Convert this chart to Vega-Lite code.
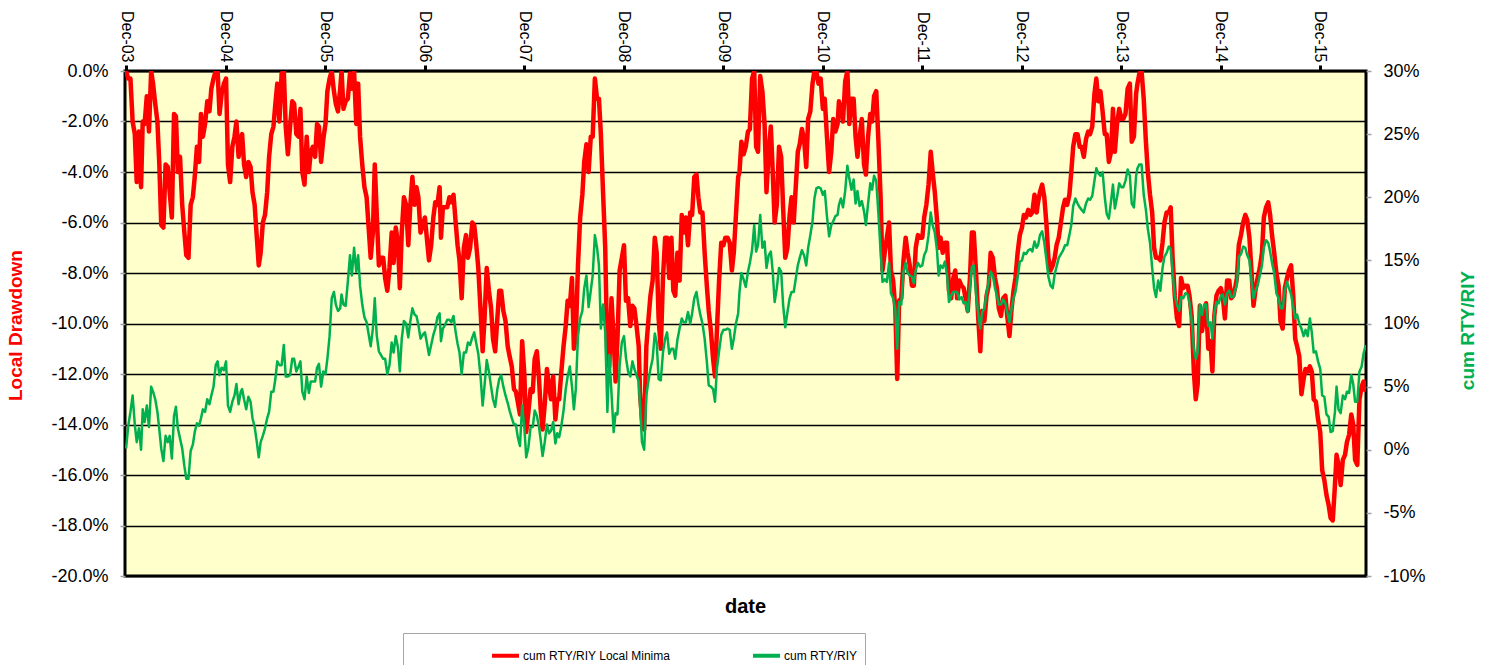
{
"$schema": "https://vega.github.io/schema/vega-lite/v6.json",
"width": 1241, "height": 505,
"autosize": {"type": "none"},
"padding": {"left": 125, "top": 71, "right": 122, "bottom": 89},
"background": "#ffffff",
"config": {
  "view": {"fill": "#FFFFCC", "stroke": "#000000", "strokeWidth": 3},
  "font": "Liberation Sans",
  "axis": {"labelFont": "Liberation Sans", "titleFont": "Liberation Sans"}
},
"data": {"values": [
{"d":"2003-12-31","r":0,"g":0.1},{"d":"2004-01-16","r":-0.3,"g":3.0},{"d":"2004-02-01","r":-2.5,"g":2.0},{"d":"2004-02-16","r":-2.4,"g":1.7},
{"d":"2004-03-01","r":-2.0,"g":3.2},{"d":"2004-03-16","r":-1.0,"g":3.5},{"d":"2004-04-01","r":0,"g":5.0},{"d":"2004-04-16","r":-1.3,"g":4.0},
{"d":"2004-05-01","r":-3.7,"g":1.6},{"d":"2004-05-16","r":-6.2,"g":-0.9},{"d":"2004-06-01","r":-3.8,"g":0.6},{"d":"2004-06-16","r":-5.8,"g":-0.7},
{"d":"2004-07-01","r":-1.8,"g":3.4},{"d":"2004-07-16","r":-3.4,"g":0.9},{"d":"2004-08-01","r":-6.4,"g":-1.3},{"d":"2004-08-16","r":-7.4,"g":-2.3},
{"d":"2004-09-01","r":-5.0,"g":0.4},{"d":"2004-09-16","r":-3.0,"g":2.1},{"d":"2004-10-01","r":-1.7,"g":2.5},{"d":"2004-10-16","r":-2.1,"g":3.0},
{"d":"2004-11-01","r":-1.6,"g":3.6},{"d":"2004-11-16","r":-0.3,"g":5.0},{"d":"2004-12-01","r":0,"g":7.0},{"d":"2004-12-16","r":-0.9,"g":6.5},
{"d":"2005-01-01","r":-0.3,"g":7.0},{"d":"2005-01-16","r":-4.4,"g":3.0},{"d":"2005-02-01","r":-2.6,"g":4.3},{"d":"2005-02-16","r":-3.4,"g":3.6},
{"d":"2005-03-01","r":-2.5,"g":4.8},{"d":"2005-03-16","r":-4.2,"g":3.2},{"d":"2005-04-01","r":-3.8,"g":3.8},{"d":"2005-04-16","r":-5.3,"g":1.8},
{"d":"2005-05-01","r":-7.7,"g":-0.6},{"d":"2005-05-16","r":-6.0,"g":1.1},{"d":"2005-06-01","r":-4.8,"g":2.5},{"d":"2005-06-16","r":-2.5,"g":4.6},
{"d":"2005-07-01","r":-1.3,"g":5.6},{"d":"2005-07-16","r":-2.0,"g":6.7},{"d":"2005-08-01","r":0,"g":8.3},{"d":"2005-08-16","r":-3.3,"g":5.8},
{"d":"2005-09-01","r":-1.2,"g":7.2},{"d":"2005-09-16","r":-2.5,"g":6.2},{"d":"2005-10-01","r":-1.5,"g":7.0},{"d":"2005-10-16","r":-4.5,"g":4.0},
{"d":"2005-11-01","r":-4.0,"g":4.5},{"d":"2005-11-16","r":-3.0,"g":5.4},{"d":"2005-12-01","r":-2.1,"g":6.5},{"d":"2005-12-16","r":-3.6,"g":5.0},
{"d":"2006-01-01","r":-2.1,"g":6.0},{"d":"2006-01-16","r":-0.3,"g":9.0},{"d":"2006-02-01","r":-0.8,"g":12.5},{"d":"2006-02-16","r":-1.6,"g":11.0},
{"d":"2006-03-01","r":0,"g":12.3},{"d":"2006-03-16","r":-1.2,"g":11.4},{"d":"2006-04-01","r":-0.1,"g":15.4},{"d":"2006-04-16","r":0,"g":16.0},
{"d":"2006-05-01","r":-0.5,"g":15.4},{"d":"2006-05-16","r":-3.7,"g":11.5},{"d":"2006-06-01","r":-5.0,"g":10.1},{"d":"2006-06-16","r":-7.4,"g":8.2},
{"d":"2006-07-01","r":-3.7,"g":12.0},{"d":"2006-07-16","r":-7.7,"g":7.8},{"d":"2006-08-01","r":-7.4,"g":7.2},{"d":"2006-08-16","r":-8.7,"g":6.0},
{"d":"2006-09-01","r":-6.4,"g":8.5},{"d":"2006-09-16","r":-6.2,"g":9.0},{"d":"2006-10-01","r":-8.6,"g":6.2},{"d":"2006-10-16","r":-5.0,"g":10.2},
{"d":"2006-11-01","r":-6.9,"g":8.9},{"d":"2006-11-16","r":-4.2,"g":11.2},{"d":"2006-12-01","r":-4.6,"g":10.6},{"d":"2006-12-16","r":-6.4,"g":8.8},
{"d":"2007-01-01","r":-5.8,"g":9.3},{"d":"2007-01-16","r":-7.5,"g":7.5},{"d":"2007-02-01","r":-5.8,"g":9.1},{"d":"2007-02-16","r":-5.3,"g":10.5},
{"d":"2007-03-01","r":-6.6,"g":8.6},{"d":"2007-03-16","r":-5.4,"g":9.9},{"d":"2007-04-01","r":-5.0,"g":10.3},{"d":"2007-04-16","r":-4.9,"g":10.6},
{"d":"2007-05-01","r":-6.9,"g":8.4},{"d":"2007-05-16","r":-9.0,"g":6.0},{"d":"2007-06-01","r":-6.5,"g":7.7},{"d":"2007-06-16","r":-7.0,"g":8.3},
{"d":"2007-07-01","r":-6.1,"g":9.3},{"d":"2007-07-16","r":-7.8,"g":7.6},{"d":"2007-08-01","r":-11.1,"g":3.5},{"d":"2007-08-16","r":-7.8,"g":7.1},
{"d":"2007-09-01","r":-9.4,"g":5.0},{"d":"2007-09-16","r":-11.1,"g":3.4},{"d":"2007-10-01","r":-8.7,"g":5.6},{"d":"2007-10-16","r":-9.5,"g":5.0},
{"d":"2007-11-01","r":-10.9,"g":3.7},{"d":"2007-11-16","r":-11.7,"g":2.5},{"d":"2007-12-01","r":-12.7,"g":2.0},{"d":"2007-12-16","r":-13.6,"g":0.3},
{"d":"2008-01-01","r":-12.0,"g":1.8},{"d":"2008-01-16","r":-13.5,"g":0.2},{"d":"2008-02-01","r":-12.7,"g":1.8},{"d":"2008-02-16","r":-11.1,"g":2.7},
{"d":"2008-03-01","r":-13.4,"g":0.8},{"d":"2008-03-16","r":-13.2,"g":0.6},{"d":"2008-04-01","r":-12.5,"g":1.3},{"d":"2008-04-16","r":-12.1,"g":2.2},
{"d":"2008-05-01","r":-13.0,"g":1.3},{"d":"2008-05-16","r":-11.9,"g":1.9},{"d":"2008-06-01","r":-10.1,"g":4.8},{"d":"2008-06-16","r":-9.3,"g":6.6},
{"d":"2008-07-01","r":-11.0,"g":3.2},{"d":"2008-07-16","r":-7.7,"g":9.0},{"d":"2008-08-01","r":-4.9,"g":11.0},{"d":"2008-08-16","r":-2.9,"g":13.8},
{"d":"2008-09-01","r":-2.6,"g":12.6},{"d":"2008-09-16","r":-0.3,"g":17.0},{"d":"2008-10-01","r":-1.1,"g":14.6},{"d":"2008-10-16","r":-4.8,"g":11.5},
{"d":"2008-11-01","r":-11.5,"g":3.0},{"d":"2008-11-16","r":-9.0,"g":4.5},{"d":"2008-12-01","r":-12.3,"g":2.9},{"d":"2008-12-16","r":-7.9,"g":6.7},
{"d":"2009-01-01","r":-6.9,"g":9.0},{"d":"2009-01-16","r":-9.0,"g":6.2},{"d":"2009-02-01","r":-9.3,"g":7.0},{"d":"2009-02-16","r":-10.1,"g":5.9},
{"d":"2009-03-01","r":-12.8,"g":3.5},{"d":"2009-03-16","r":-14.2,"g":0.0},{"d":"2009-04-01","r":-9.8,"g":5.5},{"d":"2009-04-16","r":-8.3,"g":7.2},
{"d":"2009-05-01","r":-7.2,"g":8.5},{"d":"2009-05-16","r":-11.0,"g":5.5},{"d":"2009-06-01","r":-6.6,"g":8.8},{"d":"2009-06-16","r":-8.2,"g":7.6},
{"d":"2009-07-01","r":-8.7,"g":8.0},{"d":"2009-07-16","r":-7.2,"g":8.7},{"d":"2009-08-01","r":-5.7,"g":10.4},{"d":"2009-08-16","r":-5.8,"g":10.1},
{"d":"2009-09-01","r":-5.6,"g":10.0},{"d":"2009-09-16","r":-4.2,"g":12.0},{"d":"2009-10-01","r":-5.0,"g":11.5},{"d":"2009-10-16","r":-5.6,"g":10.0},
{"d":"2009-11-01","r":-8.5,"g":7.0},{"d":"2009-11-16","r":-10.3,"g":5.0},{"d":"2009-12-01","r":-12.1,"g":3.8},{"d":"2009-12-16","r":-8.3,"g":7.8},
{"d":"2010-01-01","r":-6.9,"g":9.5},{"d":"2010-01-16","r":-6.6,"g":9.6},{"d":"2010-02-01","r":-7.9,"g":8.0},{"d":"2010-02-16","r":-5.7,"g":10.0},
{"d":"2010-03-01","r":-4.0,"g":12.5},{"d":"2010-03-16","r":-3.3,"g":13.5},{"d":"2010-04-01","r":-2.4,"g":14.1},{"d":"2010-04-16","r":-0.3,"g":15.8},
{"d":"2010-05-01","r":-3.0,"g":15.7},{"d":"2010-05-16","r":-0.2,"g":18.6},{"d":"2010-06-01","r":-2.1,"g":16.5},{"d":"2010-06-16","r":-3.2,"g":15.4},
{"d":"2010-07-01","r":-4.0,"g":14.1},{"d":"2010-07-16","r":-5.3,"g":12.8},{"d":"2010-08-01","r":-3.4,"g":14.1},{"d":"2010-08-16","r":-7.4,"g":9.7},
{"d":"2010-09-01","r":-5.7,"g":12.0},{"d":"2010-09-16","r":-6.0,"g":12.5},{"d":"2010-10-01","r":-3.2,"g":14.6},{"d":"2010-10-16","r":-2.3,"g":15.8},
{"d":"2010-11-01","r":-3.8,"g":14.6},{"d":"2010-11-16","r":-1.6,"g":17.0},{"d":"2010-12-01","r":0,"g":19.9},{"d":"2010-12-16","r":-0.5,"g":20.8},
{"d":"2011-01-01","r":-1.5,"g":20.2},{"d":"2011-01-16","r":-2.6,"g":18.5},{"d":"2011-02-01","r":-3.2,"g":17.8},{"d":"2011-02-16","r":-2.4,"g":18.5},
{"d":"2011-03-01","r":-1.2,"g":19.4},{"d":"2011-03-16","r":-2.0,"g":19.2},{"d":"2011-04-01","r":0,"g":22.5},{"d":"2011-04-16","r":-1.1,"g":20.6},
{"d":"2011-05-01","r":-2.6,"g":19.5},{"d":"2011-05-16","r":-2.6,"g":19.3},{"d":"2011-06-01","r":-3.7,"g":18.9},{"d":"2011-06-16","r":-2.6,"g":19.5},
{"d":"2011-07-01","r":-2.0,"g":20.6},{"d":"2011-07-16","r":-0.8,"g":21.3},{"d":"2011-08-01","r":-5.0,"g":15.7},{"d":"2011-08-16","r":-7.2,"g":13.5},
{"d":"2011-09-01","r":-6.0,"g":14.8},{"d":"2011-09-16","r":-8.3,"g":12.0},{"d":"2011-10-01","r":-12.2,"g":8.0},{"d":"2011-10-16","r":-9.0,"g":11.5},
{"d":"2011-11-01","r":-6.6,"g":14.8},{"d":"2011-11-16","r":-7.7,"g":13.8},{"d":"2011-12-01","r":-8.5,"g":13.2},{"d":"2011-12-16","r":-6.5,"g":14.8},
{"d":"2012-01-01","r":-6.6,"g":14.6},{"d":"2012-01-16","r":-5.3,"g":15.8},{"d":"2012-02-01","r":-3.2,"g":18.8},{"d":"2012-02-16","r":-4.8,"g":17.2},
{"d":"2012-03-01","r":-7.0,"g":13.8},{"d":"2012-03-16","r":-7.2,"g":14.4},{"d":"2012-04-01","r":-6.8,"g":13.8},{"d":"2012-04-16","r":-9.0,"g":12.2},
{"d":"2012-05-01","r":-7.9,"g":12.5},{"d":"2012-05-16","r":-8.3,"g":11.9},{"d":"2012-06-01","r":-8.6,"g":11.6},{"d":"2012-06-16","r":-9.5,"g":10.9},
{"d":"2012-07-01","r":-6.4,"g":14.5},{"d":"2012-07-16","r":-7.9,"g":12.4},{"d":"2012-08-01","r":-11.1,"g":9.6},{"d":"2012-08-16","r":-9.9,"g":11.2},
{"d":"2012-09-01","r":-8.5,"g":13.4},{"d":"2012-09-16","r":-7.4,"g":13.8},{"d":"2012-10-01","r":-8.6,"g":12.2},{"d":"2012-10-16","r":-9.7,"g":11.5},
{"d":"2012-11-01","r":-8.9,"g":11.6},{"d":"2012-11-16","r":-10.5,"g":10.1},{"d":"2012-12-01","r":-8.7,"g":12.0},{"d":"2012-12-16","r":-7.2,"g":13.6},
{"d":"2013-01-01","r":-6.2,"g":15.0},{"d":"2013-01-16","r":-5.8,"g":15.5},{"d":"2013-02-01","r":-5.7,"g":15.9},{"d":"2013-02-16","r":-4.9,"g":16.5},
{"d":"2013-03-01","r":-5.2,"g":16.2},{"d":"2013-03-16","r":-4.5,"g":17.3},{"d":"2013-04-01","r":-6.1,"g":15.0},{"d":"2013-04-16","r":-7.9,"g":13.0},
{"d":"2013-05-01","r":-7.4,"g":13.9},{"d":"2013-05-16","r":-6.6,"g":15.2},{"d":"2013-06-01","r":-5.4,"g":15.8},{"d":"2013-06-16","r":-5.3,"g":16.2},
{"d":"2013-07-01","r":-4.0,"g":17.8},{"d":"2013-07-16","r":-2.5,"g":19.9},{"d":"2013-08-01","r":-3.0,"g":19.2},{"d":"2013-08-16","r":-3.4,"g":18.8},
{"d":"2013-09-01","r":-2.4,"g":19.9},{"d":"2013-09-16","r":-2.2,"g":20.1},{"d":"2013-10-01","r":-0.3,"g":22.3},{"d":"2013-10-16","r":-0.8,"g":21.7},
{"d":"2013-11-01","r":-2.5,"g":20.0},{"d":"2013-11-16","r":-3.6,"g":18.3},{"d":"2013-12-01","r":-1.5,"g":21.0},{"d":"2013-12-16","r":-2.1,"g":20.0},
{"d":"2014-01-01","r":-1.9,"g":20.8},{"d":"2014-01-16","r":-1.7,"g":21.3},{"d":"2014-02-01","r":-0.5,"g":21.7},{"d":"2014-02-16","r":-2.6,"g":19.2},
{"d":"2014-03-01","r":-0.5,"g":22.3},{"d":"2014-03-16","r":0,"g":22.6},{"d":"2014-04-01","r":-2.8,"g":19.0},{"d":"2014-04-16","r":-4.9,"g":16.4},
{"d":"2014-05-01","r":-7.0,"g":12.8},{"d":"2014-05-16","r":-7.4,"g":13.4},{"d":"2014-06-01","r":-6.8,"g":14.4},{"d":"2014-06-16","r":-5.6,"g":15.6},
{"d":"2014-07-01","r":-5.4,"g":15.9},{"d":"2014-07-16","r":-8.9,"g":12.2},{"d":"2014-08-01","r":-10.1,"g":11.0},{"d":"2014-08-16","r":-8.6,"g":12.0},
{"d":"2014-09-01","r":-8.5,"g":12.3},{"d":"2014-09-16","r":-9.7,"g":10.2},{"d":"2014-10-01","r":-13.0,"g":7.2},{"d":"2014-10-16","r":-9.3,"g":11.5},
{"d":"2014-11-01","r":-9.7,"g":11.5},{"d":"2014-11-16","r":-11.0,"g":9.8},{"d":"2014-12-01","r":-11.9,"g":8.8},{"d":"2014-12-16","r":-8.9,"g":11.7},
{"d":"2015-01-01","r":-8.6,"g":12.2},{"d":"2015-01-16","r":-9.8,"g":11.5},{"d":"2015-02-01","r":-8.3,"g":12.6},{"d":"2015-02-16","r":-8.9,"g":12.1},
{"d":"2015-03-01","r":-8.2,"g":13.1},{"d":"2015-03-16","r":-6.5,"g":15.5},{"d":"2015-04-01","r":-5.7,"g":16.0},{"d":"2015-04-16","r":-6.6,"g":15.0},
{"d":"2015-05-01","r":-9.3,"g":12.0},{"d":"2015-05-16","r":-8.2,"g":13.0},{"d":"2015-06-01","r":-7.2,"g":14.6},{"d":"2015-06-16","r":-5.4,"g":16.6},
{"d":"2015-07-01","r":-5.7,"g":15.7},{"d":"2015-07-16","r":-7.2,"g":14.0},{"d":"2015-08-01","r":-8.5,"g":12.0},{"d":"2015-08-16","r":-10.2,"g":11.2},
{"d":"2015-09-01","r":-8.2,"g":13.3},{"d":"2015-09-16","r":-7.7,"g":12.3},{"d":"2015-10-01","r":-10.6,"g":10.4},{"d":"2015-10-16","r":-11.3,"g":10.0},
{"d":"2015-11-01","r":-12.2,"g":9.0},{"d":"2015-11-16","r":-11.9,"g":9.0},{"d":"2015-12-01","r":-11.9,"g":9.3},{"d":"2015-12-16","r":-13.1,"g":7.8},
{"d":"2016-01-01","r":-14.3,"g":6.4},{"d":"2016-01-16","r":-16.2,"g":4.2},{"d":"2016-02-01","r":-17.2,"g":2.6},{"d":"2016-02-16","r":-17.8,"g":1.5},
{"d":"2016-03-01","r":-15.2,"g":5.0},{"d":"2016-03-16","r":-16.4,"g":2.9},{"d":"2016-04-01","r":-15.2,"g":4.0},{"d":"2016-04-16","r":-14.4,"g":4.5},
{"d":"2016-05-01","r":-14.0,"g":5.2},{"d":"2016-05-16","r":-15.6,"g":3.8},{"d":"2016-06-01","r":-12.5,"g":6.6},{"d":"2016-06-16","r":-12.7,"g":8.3},
{"d":"2004-01-08","r":-0.3,"g":1.9},{"d":"2004-01-24","r":-2.0,"g":4.3},{"d":"2004-02-08","r":-4.4,"g":0.6},{"d":"2004-02-24","r":-4.6,"g":0.0},
{"d":"2004-03-08","r":-2.1,"g":2.2},{"d":"2004-03-24","r":-2.4,"g":1.8},{"d":"2004-04-08","r":-0.5,"g":4.6},{"d":"2004-04-24","r":-2.0,"g":3.0},
{"d":"2004-05-08","r":-6.1,"g":0.1},{"d":"2004-05-24","r":-3.7,"g":1.1},{"d":"2004-06-08","r":-4.8,"g":1.1},{"d":"2004-06-24","r":-1.7,"g":2.7},
{"d":"2004-07-08","r":-4.0,"g":1.7},{"d":"2004-07-24","r":-5.3,"g":0.1},{"d":"2004-08-08","r":-7.3,"g":-2.3},{"d":"2004-08-24","r":-5.3,"g":-0.1},
{"d":"2004-09-08","r":-4.2,"g":1.4},{"d":"2004-09-24","r":-3.6,"g":1.9},{"d":"2004-10-08","r":-2.6,"g":3.2},{"d":"2004-10-24","r":-1.2,"g":4.0},
{"d":"2004-11-08","r":-0.7,"g":4.3},{"d":"2004-11-24","r":0,"g":6.7},{"d":"2004-12-08","r":-1.7,"g":5.9},{"d":"2004-12-24","r":-0.5,"g":6.3},
{"d":"2005-01-08","r":-3.7,"g":3.5},{"d":"2005-01-24","r":-3.0,"g":3.8},{"d":"2005-02-08","r":-2.0,"g":5.2},{"d":"2005-02-24","r":-2.7,"g":4.6},
{"d":"2005-03-08","r":-3.7,"g":4.0},{"d":"2005-03-24","r":-3.6,"g":4.2},{"d":"2005-04-08","r":-4.8,"g":2.5},{"d":"2005-04-24","r":-6.6,"g":0.6},
{"d":"2005-05-08","r":-7.2,"g":0.6},{"d":"2005-05-24","r":-5.7,"g":1.7},{"d":"2005-06-08","r":-3.4,"g":3.0},{"d":"2005-06-24","r":-2.2,"g":4.6},
{"d":"2005-07-08","r":-0.5,"g":7.0},{"d":"2005-07-24","r":-0.1,"g":6.7},{"d":"2005-08-08","r":-2.2,"g":5.8},{"d":"2005-08-24","r":-2.2,"g":5.9},
{"d":"2005-09-08","r":-1.3,"g":7.2},{"d":"2005-09-24","r":-2.6,"g":6.6},{"d":"2005-10-08","r":-4.0,"g":4.6},{"d":"2005-10-24","r":-2.6,"g":5.8},
{"d":"2005-11-08","r":-3.2,"g":5.4},{"d":"2005-11-24","r":-3.4,"g":5.4},{"d":"2005-12-08","r":-2.2,"g":6.8},{"d":"2005-12-24","r":-2.7,"g":6.2},
{"d":"2006-01-08","r":-0.8,"g":7.2},{"d":"2006-01-24","r":0,"g":12.0},{"d":"2006-02-08","r":-1.3,"g":11.5},{"d":"2006-02-24","r":-0.7,"g":11.2},
{"d":"2006-03-08","r":-1.5,"g":11.5},{"d":"2006-03-24","r":-1.1,"g":13.3},{"d":"2006-04-08","r":-0.7,"g":13.8},{"d":"2006-04-24","r":-2.1,"g":14.1},
{"d":"2006-05-08","r":-2.6,"g":13.0},{"d":"2006-05-24","r":-4.6,"g":10.5},{"d":"2006-06-24","r":-6.4,"g":9.6},{"d":"2006-07-08","r":-5.6,"g":9.1},
{"d":"2006-07-24","r":-7.4,"g":7.5},{"d":"2006-08-08","r":-8.2,"g":7.2},{"d":"2006-08-24","r":-7.8,"g":6.7},{"d":"2006-09-08","r":-7.6,"g":7.7},
{"d":"2006-09-24","r":-6.8,"g":8.1},{"d":"2006-10-08","r":-6.4,"g":8.8},{"d":"2006-10-24","r":-5.3,"g":10.0},{"d":"2006-11-08","r":-5.4,"g":10.1},
{"d":"2006-11-24","r":-5.3,"g":10.7},{"d":"2006-12-08","r":-5.0,"g":9.9},{"d":"2006-12-24","r":-6.1,"g":9.1},{"d":"2007-01-08","r":-6.6,"g":8.5},
{"d":"2007-01-24","r":-6.9,"g":8.3},{"d":"2007-02-08","r":-5.2,"g":9.6},{"d":"2007-02-24","r":-4.6,"g":10.8},{"d":"2007-03-08","r":-5.4,"g":9.6},
{"d":"2007-03-24","r":-5.4,"g":10.3},{"d":"2007-04-08","r":-5.2,"g":10.1},{"d":"2007-04-24","r":-6.0,"g":9.3},{"d":"2007-05-08","r":-7.5,"g":7.7},
{"d":"2007-05-24","r":-7.0,"g":7.7},{"d":"2007-06-08","r":-7.4,"g":8.5},{"d":"2007-06-24","r":-6.0,"g":8.9},{"d":"2007-07-08","r":-6.8,"g":8.5},
{"d":"2007-07-24","r":-9.4,"g":5.9},{"d":"2007-08-08","r":-9.8,"g":5.1},{"d":"2007-08-24","r":-8.7,"g":6.2},{"d":"2007-09-08","r":-10.6,"g":4.0},
{"d":"2007-09-24","r":-9.8,"g":4.8},{"d":"2007-10-08","r":-8.7,"g":5.9},{"d":"2007-10-24","r":-9.9,"g":4.3},{"d":"2007-11-08","r":-11.3,"g":3.1},
{"d":"2007-11-24","r":-12.6,"g":2.0},{"d":"2007-12-08","r":-13.1,"g":1.0},{"d":"2007-12-24","r":-10.7,"g":3.5},{"d":"2008-01-08","r":-14.3,"g":-0.6},
{"d":"2008-01-24","r":-12.6,"g":1.8},{"d":"2008-02-08","r":-11.4,"g":3.1},{"d":"2008-02-24","r":-12.2,"g":1.8},{"d":"2008-03-08","r":-14.2,"g":-0.5},
{"d":"2008-03-24","r":-11.8,"g":2.0},{"d":"2008-04-08","r":-13.0,"g":1.5},{"d":"2008-04-24","r":-13.8,"g":0.5},{"d":"2008-05-08","r":-13.0,"g":1.0},
{"d":"2008-05-24","r":-10.9,"g":3.1},{"d":"2008-06-08","r":-9.1,"g":5.8},{"d":"2008-06-24","r":-8.2,"g":5.0},{"d":"2008-07-08","r":-10.5,"g":4.8},
{"d":"2008-07-24","r":-5.8,"g":10.4},{"d":"2008-08-08","r":-3.6,"g":12.8},{"d":"2008-08-24","r":-4.0,"g":11.3},{"d":"2008-09-08","r":-2.6,"g":13.8},
{"d":"2008-09-24","r":-1.1,"g":16.0},{"d":"2008-10-08","r":-2.5,"g":9.6},{"d":"2008-10-24","r":-7.0,"g":9.3},{"d":"2008-11-08","r":-11.7,"g":7.5},
{"d":"2008-11-24","r":-10.6,"g":1.4},{"d":"2008-12-08","r":-10.6,"g":2.8},{"d":"2008-12-24","r":-7.4,"g":8.5},{"d":"2009-01-08","r":-9.1,"g":7.3},
{"d":"2009-01-24","r":-10.1,"g":5.8},{"d":"2009-02-08","r":-9.4,"g":6.4},{"d":"2009-02-24","r":-10.9,"g":5.4},{"d":"2009-03-08","r":-13.8,"g":0.6},
{"d":"2009-03-24","r":-10.9,"g":4.3},{"d":"2009-04-08","r":-8.9,"g":6.4},{"d":"2009-04-24","r":-6.6,"g":9.2},{"d":"2009-05-08","r":-9.8,"g":5.6},
{"d":"2009-05-24","r":-8.2,"g":7.7},{"d":"2009-06-08","r":-6.6,"g":9.3},{"d":"2009-06-24","r":-6.6,"g":8.0},{"d":"2009-07-08","r":-8.9,"g":7.2},
{"d":"2009-07-24","r":-8.3,"g":9.6},{"d":"2009-08-08","r":-6.4,"g":10.1},{"d":"2009-08-24","r":-6.9,"g":10.9},{"d":"2009-09-08","r":-5.7,"g":10.8},
{"d":"2009-09-24","r":-4.1,"g":12.5},{"d":"2009-10-08","r":-5.6,"g":10.7},{"d":"2009-10-24","r":-7.2,"g":8.8},{"d":"2009-11-08","r":-9.5,"g":5.1},
{"d":"2009-11-24","r":-11.4,"g":4.8},{"d":"2009-12-08","r":-10.3,"g":6.4},{"d":"2009-12-24","r":-6.8,"g":9.1},{"d":"2010-01-08","r":-6.6,"g":9.5},
{"d":"2010-01-24","r":-6.8,"g":9.5},{"d":"2010-02-08","r":-7.2,"g":8.8},{"d":"2010-02-24","r":-4.2,"g":10.8},{"d":"2010-03-08","r":-2.8,"g":14.0},
{"d":"2010-03-24","r":-3.0,"g":12.9},{"d":"2010-04-08","r":-2.3,"g":14.8},{"d":"2010-04-24","r":0,"g":17.8},{"d":"2010-05-08","r":-3.2,"g":16.2},
{"d":"2010-05-24","r":-0.8,"g":16.0},{"d":"2010-06-08","r":-4.8,"g":14.4},{"d":"2010-06-24","r":-2.2,"g":15.7},{"d":"2010-07-08","r":-6.0,"g":11.7},
{"d":"2010-07-24","r":-3.0,"g":14.4},{"d":"2010-08-08","r":-5.4,"g":11.5},{"d":"2010-08-24","r":-7.0,"g":10.9},{"d":"2010-09-08","r":-5.0,"g":12.5},
{"d":"2010-09-24","r":-4.5,"g":13.6},{"d":"2010-10-08","r":-2.9,"g":15.2},{"d":"2010-10-24","r":-2.7,"g":15.4},{"d":"2010-11-08","r":-1.9,"g":16.0},
{"d":"2010-11-24","r":-0.5,"g":18.1},{"d":"2010-12-08","r":0,"g":20.7},{"d":"2010-12-24","r":-0.3,"g":20.7},{"d":"2011-01-08","r":-1.1,"g":20.5},
{"d":"2011-01-24","r":-4.0,"g":16.9},{"d":"2011-02-08","r":-1.9,"g":18.1},{"d":"2011-02-24","r":-2.1,"g":18.6},{"d":"2011-03-08","r":-1.5,"g":19.9},
{"d":"2011-03-24","r":-0.4,"g":20.5},{"d":"2011-04-08","r":-2.1,"g":21.5},{"d":"2011-04-24","r":-1.1,"g":21.4},{"d":"2011-05-08","r":-3.4,"g":20.5},
{"d":"2011-05-24","r":-1.9,"g":19.7},{"d":"2011-06-08","r":-4.1,"g":17.8},{"d":"2011-06-24","r":-1.7,"g":21.1},{"d":"2011-07-08","r":-1.0,"g":21.7},
{"d":"2011-07-24","r":-2.8,"g":18.7},{"d":"2011-08-08","r":-7.9,"g":13.3},{"d":"2011-08-24","r":-6.6,"g":13.3},{"d":"2011-09-08","r":-7.9,"g":12.4},
{"d":"2011-09-24","r":-9.4,"g":11.1},{"d":"2011-10-08","r":-9.1,"g":11.7},{"d":"2011-10-24","r":-7.5,"g":14.1},{"d":"2011-11-08","r":-7.2,"g":14.0},
{"d":"2011-11-24","r":-8.5,"g":13.7},{"d":"2011-12-08","r":-7.0,"g":14.2},{"d":"2011-12-24","r":-6.6,"g":14.5},{"d":"2012-01-08","r":-5.8,"g":15.4},
{"d":"2012-01-24","r":-4.5,"g":17.0},{"d":"2012-02-08","r":-4.0,"g":17.8},{"d":"2012-02-24","r":-5.9,"g":15.8},{"d":"2012-03-08","r":-6.6,"g":14.6},
{"d":"2012-03-24","r":-6.8,"g":14.9},{"d":"2012-04-08","r":-8.7,"g":11.7},{"d":"2012-04-24","r":-8.2,"g":12.5},{"d":"2012-05-08","r":-9.0,"g":12.5},
{"d":"2012-05-24","r":-8.5,"g":12.1},{"d":"2012-06-08","r":-9.0,"g":11.7},{"d":"2012-06-24","r":-8.2,"g":12.9},{"d":"2012-07-08","r":-6.4,"g":14.6},
{"d":"2012-07-24","r":-9.7,"g":10.9},{"d":"2012-08-08","r":-9.5,"g":10.9},{"d":"2012-08-24","r":-8.9,"g":12.4},{"d":"2012-09-08","r":-7.2,"g":14.1},
{"d":"2012-09-24","r":-8.2,"g":12.8},{"d":"2012-10-08","r":-9.4,"g":11.5},{"d":"2012-10-24","r":-9.0,"g":11.9},{"d":"2012-11-08","r":-9.7,"g":10.9},
{"d":"2012-11-24","r":-9.4,"g":11.2},{"d":"2012-12-08","r":-8.2,"g":12.5},{"d":"2012-12-24","r":-6.5,"g":14.9},{"d":"2013-01-08","r":-5.7,"g":15.6},
{"d":"2013-01-24","r":-5.5,"g":15.8},{"d":"2013-02-08","r":-5.6,"g":15.7},{"d":"2013-02-24","r":-5.6,"g":16.0},{"d":"2013-03-08","r":-4.8,"g":17.0},
{"d":"2013-03-24","r":-5.0,"g":16.4},{"d":"2013-04-08","r":-7.4,"g":13.7},{"d":"2013-04-24","r":-7.7,"g":12.8},{"d":"2013-05-08","r":-6.9,"g":14.5},
{"d":"2013-05-24","r":-6.0,"g":15.5},{"d":"2013-06-08","r":-5.1,"g":16.2},{"d":"2013-06-24","r":-4.9,"g":17.0},{"d":"2013-07-08","r":-3.0,"g":19.3},
{"d":"2013-07-24","r":-2.5,"g":19.5},{"d":"2013-08-08","r":-3.0,"g":19.0},{"d":"2013-08-24","r":-2.7,"g":19.5},{"d":"2013-09-08","r":-2.5,"g":19.8},
{"d":"2013-09-24","r":-0.9,"g":21.3},{"d":"2013-10-08","r":-1.2,"g":21.9},{"d":"2013-10-24","r":-1.6,"g":22.0},{"d":"2013-11-08","r":-2.5,"g":18.7},
{"d":"2013-11-24","r":-3.2,"g":19.7},{"d":"2013-12-08","r":-3.2,"g":19.1},{"d":"2013-12-24","r":-1.5,"g":21.1},{"d":"2014-01-08","r":-1.9,"g":20.8},
{"d":"2014-01-24","r":-0.7,"g":22.2},{"d":"2014-02-08","r":-2.8,"g":19.5},{"d":"2014-02-24","r":-0.9,"g":21.7},{"d":"2014-03-08","r":-0.1,"g":22.6},
{"d":"2014-03-24","r":-1.1,"g":20.2},{"d":"2014-04-08","r":-4.0,"g":17.5},{"d":"2014-04-24","r":-5.6,"g":14.4},{"d":"2014-05-08","r":-7.4,"g":12.1},
{"d":"2014-05-24","r":-7.5,"g":12.6},{"d":"2014-06-08","r":-6.0,"g":15.3},{"d":"2014-06-24","r":-5.6,"g":16.1},{"d":"2014-07-08","r":-7.4,"g":14.0},
{"d":"2014-07-24","r":-9.8,"g":11.5},{"d":"2014-08-08","r":-8.2,"g":12.1},{"d":"2014-08-24","r":-8.5,"g":12.4},{"d":"2014-09-08","r":-8.9,"g":11.7},
{"d":"2014-09-24","r":-11.9,"g":8.0},{"d":"2014-10-08","r":-12.4,"g":7.7},{"d":"2014-10-24","r":-10.3,"g":10.7},{"d":"2014-11-08","r":-9.2,"g":11.5},
{"d":"2014-11-24","r":-10.7,"g":10.1},{"d":"2014-12-08","r":-9.7,"g":10.8},{"d":"2014-12-24","r":-8.7,"g":11.6},{"d":"2015-01-08","r":-8.9,"g":12.3},
{"d":"2015-01-24","r":-8.3,"g":12.4},{"d":"2015-02-08","r":-9.0,"g":12.1},{"d":"2015-02-24","r":-8.5,"g":12.7},{"d":"2015-03-08","r":-6.9,"g":15.3},
{"d":"2015-03-24","r":-6.0,"g":16.1},{"d":"2015-04-08","r":-5.9,"g":15.4},{"d":"2015-04-24","r":-8.0,"g":13.3},{"d":"2015-05-08","r":-8.7,"g":12.6},
{"d":"2015-05-24","r":-7.8,"g":13.8},{"d":"2015-06-08","r":-5.8,"g":16.0},{"d":"2015-06-24","r":-5.2,"g":16.4},{"d":"2015-07-08","r":-6.5,"g":14.8},
{"d":"2015-07-24","r":-8.0,"g":12.4},{"d":"2015-08-08","r":-9.9,"g":11.2},{"d":"2015-08-24","r":-8.6,"g":12.6},{"d":"2015-09-08","r":-7.9,"g":12.8},
{"d":"2015-09-24","r":-8.9,"g":11.3},{"d":"2015-10-08","r":-10.9,"g":10.7},{"d":"2015-10-24","r":-12.8,"g":9.6},{"d":"2015-11-08","r":-11.8,"g":9.5},
{"d":"2015-11-24","r":-11.7,"g":10.4},{"d":"2015-12-08","r":-13.0,"g":7.7},{"d":"2015-12-24","r":-13.8,"g":7.0},{"d":"2016-01-08","r":-15.8,"g":4.3},
{"d":"2016-01-24","r":-16.8,"g":2.8},{"d":"2016-02-08","r":-17.7,"g":1.4},{"d":"2016-02-24","r":-16.4,"g":3.0},{"d":"2016-03-08","r":-15.6,"g":3.2},
{"d":"2016-03-24","r":-15.4,"g":4.3},{"d":"2016-04-08","r":-14.7,"g":4.6},{"d":"2016-04-24","r":-13.6,"g":5.9},{"d":"2016-05-08","r":-15.4,"g":3.8},
{"d":"2016-05-24","r":-13.0,"g":6.2},{"d":"2016-06-08","r":-12.3,"g":7.6}
]},
"layer": [
{
  "mark": {"type": "line", "strokeWidth": 4.5, "strokeJoin": "round", "clip": true},
  "encoding": {
    "x": {"field": "d", "type": "temporal",
      "scale": {"type": "utc", "domain": [{"year": 2003, "month": 12, "date": 27, "utc": true}, {"year": 2016, "month": 6, "date": 17, "utc": true}]},
      "axis": {"orient": "top",
        "values": [{"year":2003,"month":12,"date":31,"utc":true},{"year":2004,"month":12,"date":31,"utc":true},{"year":2005,"month":12,"date":31,"utc":true},{"year":2006,"month":12,"date":31,"utc":true},{"year":2007,"month":12,"date":31,"utc":true},{"year":2008,"month":12,"date":31,"utc":true},{"year":2009,"month":12,"date":31,"utc":true},{"year":2010,"month":12,"date":31,"utc":true},{"year":2011,"month":12,"date":31,"utc":true},{"year":2012,"month":12,"date":31,"utc":true},{"year":2013,"month":12,"date":31,"utc":true},{"year":2014,"month":12,"date":31,"utc":true},{"year":2015,"month":12,"date":31,"utc":true}],
        "format": "%b-%y", "labelAngle": 90, "labelAlign": "right", "labelBaseline": "middle",
        "labelFontSize": 16, "labelColor": "#000000", "labelPadding": 3,
        "tickColor": "#000000", "tickWidth": 3, "tickSize": 6,
        "domain": false, "grid": false,
        "title": "date", "titleFontSize": 20, "titleFontWeight": "bold", "titleColor": "#000000",
        "titleX": 620, "titleY": 535, "titleAlign": "center", "titleBaseline": "middle", "titleAngle": 0}},
    "y": {"field": "r", "type": "quantitative",
      "scale": {"domain": [-20, 0], "nice": false, "zero": false},
      "axis": {"orient": "left", "values": [-20,-18,-16,-14,-12,-10,-8,-6,-4,-2,0],
        "labelExpr": "(datum.value < 0 ? '-' : '') + format(abs(datum.value), '.1f') + '%'",
        "labelFontSize": 18, "labelColor": "#000000", "labelPadding": 12,
        "tickColor": "#a0a0a0", "tickSize": 5, "tickWidth": 1.5,
        "domain": false, "grid": true, "gridColor": "#000000", "gridWidth": 1.5,
        "title": "Local Drawdown", "titleColor": "#FF0000", "titleFontSize": 19, "titleFontWeight": "bold",
        "titleAngle": 270, "titleX": -110, "titleY": 254, "titleAlign": "center", "titleBaseline": "middle"}},
    "color": {"datum": "cum RTY/RIY Local Minima", "type": "nominal",
      "scale": {"domain": ["cum RTY/RIY Local Minima", "cum RTY/RIY"], "range": ["#FF0000", "#00B050"]},
      "legend": {"title": null, "orient": "none", "legendX": 278, "legendY": 562, "direction": "horizontal",
        "columns": 2, "gridAlign": "all",
        "symbolType": "stroke", "symbolSize": 729, "symbolStrokeWidth": 4,
        "labelFont": "Liberation Sans", "labelFontSize": 12, "labelColor": "#000000", "labelOffset": 2, "labelLimit": 500,
        "strokeColor": "#a6a6a6", "fillColor": "#ffffff", "padding": 7, "symbolOffset": 80, "columnPadding": 0}}
  }
},
{
  "mark": {"type": "line", "strokeWidth": 2.5, "strokeJoin": "round", "clip": true},
  "encoding": {
    "x": {"field": "d", "type": "temporal"},
    "y": {"field": "g", "type": "quantitative",
      "scale": {"domain": [-10, 30], "nice": false, "zero": false},
      "axis": {"orient": "right", "values": [30,25,20,15,10,5,0,-5,-10],
        "labelExpr": "(datum.value < 0 ? '-' : '') + abs(datum.value) + '%'",
        "labelFontSize": 18, "labelColor": "#000000", "labelPadding": 12,
        "tickColor": "#a0a0a0", "tickSize": 5, "tickWidth": 1.5,
        "domain": false, "grid": false,
        "title": "cum RTY/RIY", "titleColor": "#00B050", "titleFontSize": 19, "titleFontWeight": "bold",
        "titleAngle": 270, "titleX": 101, "titleY": 259, "titleAlign": "center", "titleBaseline": "middle"}},
    "color": {"datum": "cum RTY/RIY", "type": "nominal",
      "scale": {"domain": ["cum RTY/RIY Local Minima", "cum RTY/RIY"], "range": ["#FF0000", "#00B050"]}}
  }
}
],
"resolve": {"scale": {"y": "independent"}}
}
